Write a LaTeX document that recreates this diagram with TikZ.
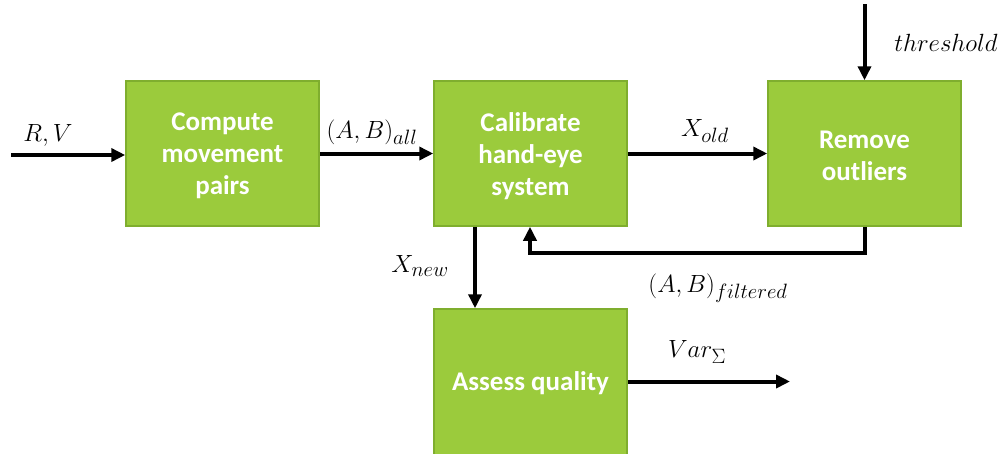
\documentclass[tikz,border=0pt]{standalone}
\usepackage{fontspec}
\newfontfamily\boxfont{Carlito}
\usetikzlibrary{arrows.meta}
\definecolor{boxfill}{HTML}{9BCB3C}
\definecolor{boxline}{HTML}{7FAE2E}
\begin{document}
\begin{tikzpicture}[x=1pt,y=-1pt,
  blk/.style={draw=boxline, line width=1.5pt, fill=boxfill, minimum width=193pt, minimum height=145pt, inner sep=0pt},
  txt/.style={inner sep=0pt, align=center, text=white, font=\boxfont\bfseries\fontsize{27}{32}\selectfont},
  flow/.style={line width=4pt, -{Triangle[length=14pt,width=13pt]}},
  lbl/.style={font=\fontsize{28}{32}\selectfont, inner sep=0pt}]
\useasboundingbox (0,0) rectangle (1008,453);
\node[blk] (cmp) at (222.5,153.5) {};
\node[blk] (cal) at (530.5,153.5) {};
\node[blk] (rem) at (864.5,153.5) {};
\node[blk, minimum height=155pt] (asq) at (530.5,386.5) {};
\node[txt] (cmpt) at (222.5,156) {Compute\\movement\\pairs};
\node[txt] (calt) at (530.5,156) {Calibrate\\hand-eye\\system};
\node[txt] (remt) at (864.5,156) {Remove\\outliers};
\node[txt] (asqt) at (530.5,383.5) {Assess quality};
\coordinate (in) at (11,155);
\coordinate (th) at (864.5,4);
\coordinate (fb) at (530,253);
\coordinate (vo) at (790,381.5);
\draw[flow] (in) -- (in -| cmp.west);
\draw[flow] (cmp.east) -- (cal.west);
\draw[flow] (cal.east) -- (rem.west);
\draw[flow] (th) -- (rem.north);
\draw[flow] (rem.south) |- (fb) -- (fb |- cal.south);
\draw[flow] ([xshift=-55.5pt]cal.south) -- ([xshift=-55.5pt]asq.north);
\draw[flow] (vo -| asq.east) -- (vo);
\node[lbl] (lrv) at (48,135) {$R,V$};
\node[lbl] (lall) at (372,132) {$(A,B)_{all}$};
\node[lbl] (lold) at (705,131) {$X_{old}$};
\node[lbl] (lth) at (946,43) {$threshold$};
\node[lbl] (lnew) at (420,266) {$X_{new}$};
\node[lbl] (lfil) at (718,288) {$(A,B)_{filtered}$};
\node[lbl] (lvar) at (697,352) {$Var_{\Sigma}$};
\end{tikzpicture}
\end{document}
